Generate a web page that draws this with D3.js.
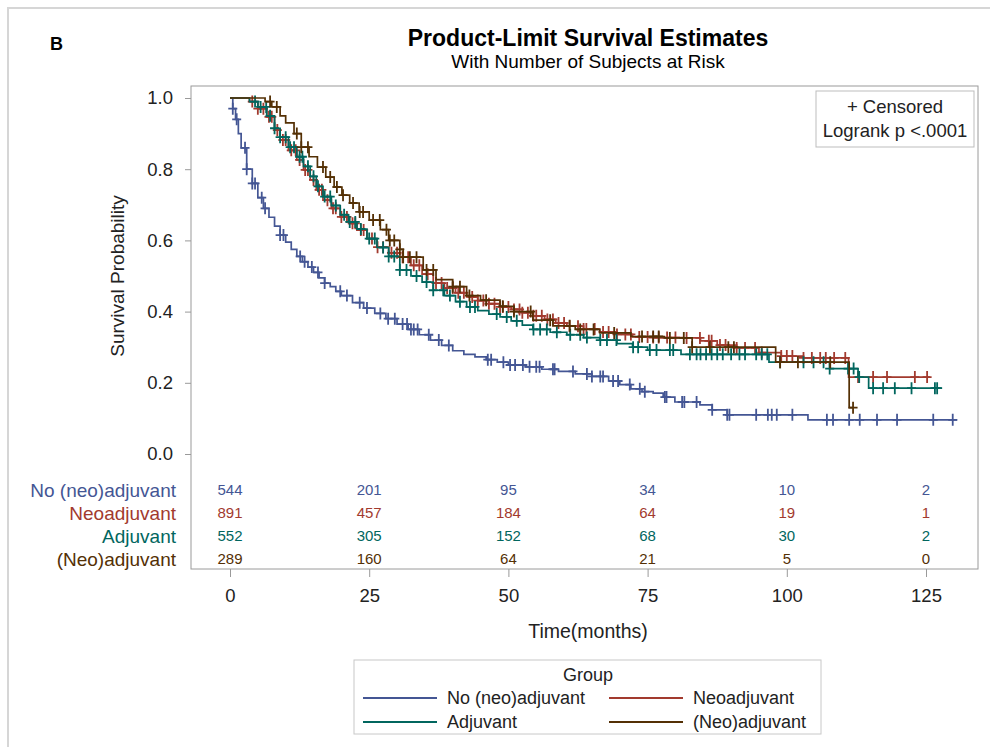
<!DOCTYPE html>
<html>
<head>
  <meta charset="utf-8">
  <title>Product-Limit Survival Estimates</title>
  <script src="https://d3js.org/d3.v7.min.js"></script>
  <style>
    body {
      margin: 0;
      padding: 0;
      background: #fff;
      font-family: "Liberation Sans", Arial, Helvetica, sans-serif;
    }
    .axis path { display: none; }
    .axis line { stroke: #9a9a9a; }
    .axis text { fill: #222; font-size: 18.5px; font-family: "Liberation Sans", Arial, sans-serif; }
  </style>
</head>
<body>
<div id="chart"></div>
<script>

// groups
var groups = ["No (neo)adjuvant", "Neoadjuvant", "Adjuvant", "(Neo)adjuvant"];
var colors = ["#445694", "#A23A2E", "#01665E", "#543005"];

// KM step points [month, survival]
var noAdj = [[0,1],[0.5,0.97],[1,0.94],[1.5,0.9],[2,0.86],[3,0.8],[4,0.76],[5,0.72],[6,0.69],[7,0.665],
  [8,0.64],[9,0.615],[10,0.595],[11,0.575],[12,0.555],[13,0.54],[14,0.525],[15,0.51],[16,0.495],[17,0.48],
  [18,0.47],[19,0.457],[20,0.445],[22,0.425],[24,0.41],[26,0.395],[28,0.38],[30,0.365],[32,0.35],[34,0.335],
  [36,0.32],[38,0.305],[40,0.29],[42,0.28],[44,0.273],[46,0.265],[48,0.258],[50,0.25],[53,0.245],[56,0.238],
  [59,0.232],[62,0.225],[65,0.218],[68,0.205],[70,0.195],[72,0.183],[74,0.175],[76,0.171],[77.8,0.16],
  [79.9,0.146],[84.4,0.138],[86.6,0.124],[89.3,0.11],[103.8,0.096]];
var neoAdj = [[0,1],[3.5,0.99],[5,0.97],[6.6,0.947],[8,0.91],[9,0.882],[10.5,0.853],[12,0.826],[13.2,0.798],
  [14.4,0.77],[15.5,0.742],[16.7,0.713],[18.2,0.69],[19.8,0.666],[21.3,0.648],[22.8,0.629],[24.6,0.605],
  [26.4,0.581],[28.5,0.565],[30.5,0.553],[32.5,0.53],[34.5,0.505],[36.5,0.48],[38.5,0.466],[40.5,0.453],
  [42.5,0.441],[44.5,0.431],[46.5,0.422],[48.5,0.413],[50.5,0.406],[52.5,0.397],[54.4,0.388],[56.5,0.378],
  [58.5,0.368],[60.5,0.359],[63.5,0.351],[66.4,0.343],[69.5,0.336],[72.3,0.329],[76,0.327],[81.3,0.326],
  [84.5,0.318],[87.5,0.306],[91,0.298],[95,0.285],[99,0.275],[103,0.27],[111.1,0.216]];
var adj = [[0,1],[3.5,0.99],[5,0.975],[6.6,0.95],[8,0.915],[9,0.89],[10.5,0.862],[12,0.835],[13.2,0.808],
  [14.4,0.78],[15.5,0.752],[16.7,0.723],[18.2,0.698],[19.8,0.672],[21.3,0.652],[22.8,0.632],[24.6,0.605],
  [26.4,0.58],[28.5,0.555],[30.5,0.517],[32.5,0.5],[34.5,0.483],[36.5,0.46],[38.5,0.445],[40.5,0.428],
  [42.5,0.413],[44.5,0.403],[46.5,0.393],[48.5,0.385],[50.5,0.374],[52.5,0.362],[54.4,0.35],[57.5,0.342],
  [60.5,0.335],[63.5,0.327],[66.4,0.32],[69.5,0.31],[72.3,0.3],[75,0.292],[81,0.28],[96.8,0.258],
  [107.7,0.24],[112.8,0.216],[114.7,0.185]];
var neoAdjBoth = [[0,1],[6.3,0.99],[7.5,0.975],[9,0.95],[10,0.93],[11.5,0.9],[12.8,0.862],[14.2,0.835],
  [15.7,0.806],[17.2,0.778],[18.7,0.75],[20.1,0.727],[21.5,0.705],[23.2,0.68],[25,0.657],[27,0.63],
  [28.5,0.6],[30.5,0.575],[31.1,0.553],[34.7,0.517],[37,0.49],[40,0.47],[42.5,0.445],[45,0.432],
  [48.5,0.415],[51,0.4],[54.4,0.376],[58,0.36],[62,0.35],[66.4,0.34],[72,0.33],[78,0.326],[83,0.3],
  [98,0.258],[111.2,0.13]];
var lastTime = [130.6, 125.7, 127.9, 111.9];

// censored times
var censNoAdj = [0.5,1.2,2.7,3,4,4.5,5.7,6.3,9,9.6,12.6,13.4,14.7,15.8,17,19.8,21,23.3,24.6,27,28.4,29.6,
  31,31.8,32.5,33,33.7,35.7,37.5,39.3,46.3,46.9,49.1,50.3,51.2,52.6,53.8,55,55.6,58,58.3,61.6,64.1,65,66.5,
  67,68.8,69.7,71.8,73.6,74.5,78.1,78.4,81.2,81.6,83.8,86.6,89.3,89.7,94.5,96.6,97.3,98.2,101,107.2,108.3,
  111.2,113.1,116.2,119.8,126.3,129.8];
var censNeoAdj = [4,5,6,7,7.5,8.5,9.5,10,11,11.8,12.5,13.5,14,15,16,16.5,17.5,18.5,19,20,21,22,22.5,23.5,
  24,25.5,26.5,27.5,29,30,31,32,33,34,35.5,37,38,39,40,41,42,43.5,44.5,45.5,46.5,47.5,48.5,49,50,51,52,52.5,
  53.5,54.5,55,56,57,58,59,60,61,62.5,63.5,64,65.5,67,68,69.5,71,72,73.5,75,76,77,78.5,80,82,84.4,86,86.5,
  88,89,91,92.5,94.3,95.5,99,100,101,103,104.5,106,107,108.5,110.5,112.8,115.5,118,123,125.2];
var censAdj = [4.5,5.5,6.5,7.2,8,9,10,10.8,11.5,12.5,13,14,15,15.8,17,18,19,20.5,21.5,22.5,23.5,25,26,27.5,
  28.5,29.5,30.5,31.7,33.5,35.3,36.5,38.3,39.5,41.3,43.1,44,47.9,49.7,51.5,54.5,55.7,56.9,58.7,61.1,62.9,
  64.1,66.5,67.7,69.4,72.4,73.3,75.4,76.6,79,79.6,82.6,83.8,84.5,85.5,86.5,87.5,88.5,90,91.5,92.5,94.5,
  95.5,96.5,98.8,103,104.8,106.6,107.7,111,112,113,115.5,117.3,119.4,122.4,126.6,127];
var censNeoAdjBoth = [7.2,8.4,12,12.8,14,16.7,18,19.2,20.3,22.1,23.3,23.9,25.7,26.9,28.1,28.7,29.5,30.5,
  31.1,32.3,33.5,35.3,36.5,40,41.3,43,46,49,51,54,57.5,61,62.9,65.3,69,74,76,77,79,81.5,83,86.2,89.5,90.5,
  98.8,102,107.8,111.9];

// number at risk
var riskTimes = [0, 25, 50, 75, 100, 125];
var riskNoAdj = [544, 201, 95, 34, 10, 2];
var riskNeoAdj = [891, 457, 184, 64, 19, 1];
var riskAdj = [552, 305, 152, 68, 30, 2];
var riskNeoAdjBoth = [289, 160, 64, 21, 5, 0];

var xTicks = [0, 25, 50, 75, 100, 125];
var yTicks = [0, 0.2, 0.4, 0.6, 0.8, 1.0];

var curves = [noAdj, neoAdj, adj, neoAdjBoth];
var censors = [censNoAdj, censNeoAdj, censAdj, censNeoAdjBoth];
var risks = [riskNoAdj, riskNeoAdj, riskAdj, riskNeoAdjBoth];

var W = 990, H = 747;
var frame = {left: 191, top: 86, right: 978, bottom: 569};

var svg = d3.select("#chart").append("svg")
    .attr("width", W)
    .attr("height", H);

// outer border of the figure
svg.append("path")
    .attr("d", "M8," + H + "V8H" + W)
    .attr("fill", "none")
    .attr("stroke", "#d6d6d6")
    .attr("stroke-width", 2);

var x = d3.scaleLinear().domain([0, 125]).range([230, 926]);
var y = d3.scaleLinear().domain([0, 1]).range([454, 98]);

// titles
svg.append("text")
    .attr("x", 50).attr("y", 50)
    .style("font-size", "18px").style("font-weight", "bold")
    .text("B");

svg.append("text")
    .attr("x", 588).attr("y", 46)
    .attr("text-anchor", "middle")
    .style("font-size", "23px").style("font-weight", "bold")
    .text("Product-Limit Survival Estimates");

svg.append("text")
    .attr("x", 588).attr("y", 68)
    .attr("text-anchor", "middle")
    .style("font-size", "19px")
    .text("With Number of Subjects at Risk");

// plot frame
svg.append("rect")
    .attr("x", frame.left).attr("y", frame.top)
    .attr("width", frame.right - frame.left)
    .attr("height", frame.bottom - frame.top)
    .attr("fill", "none")
    .attr("stroke", "#9a9a9a");

// axes
svg.append("g")
    .attr("class", "axis")
    .attr("transform", "translate(" + frame.left + ",0)")
    .call(d3.axisLeft(y).tickValues(yTicks).tickFormat(d3.format(".1f")).tickSize(6).tickPadding(12));

svg.append("g")
    .attr("class", "axis")
    .attr("transform", "translate(0," + frame.bottom + ")")
    .call(d3.axisBottom(x).tickValues(xTicks).tickSize(8).tickPadding(12));

svg.append("text")
    .attr("transform", "translate(124,276) rotate(-90)")
    .attr("text-anchor", "middle")
    .style("font-size", "19px").style("fill", "#222")
    .text("Survival Probability");

svg.append("text")
    .attr("x", 588).attr("y", 638)
    .attr("text-anchor", "middle")
    .style("font-size", "19.5px").style("fill", "#222")
    .text("Time(months)");

// survival curves
function survAt(pts, t) {
  var s = pts[0][1];
  for (var i = 0; i < pts.length; i++) {
    if (pts[i][0] <= t) s = pts[i][1];
  }
  return s;
}

var line = d3.line()
    .x(function(d) { return x(d[0]); })
    .y(function(d) { return y(d[1]); })
    .curve(d3.curveStepAfter);

curves.forEach(function(pts, i) {
  var data = pts.concat([[lastTime[i], pts[pts.length - 1][1]]]);
  svg.append("path")
      .datum(data)
      .attr("d", line)
      .attr("fill", "none")
      .attr("stroke", colors[i])
      .attr("stroke-width", 1.7);

  svg.append("g").selectAll("path")
      .data(censors[i])
    .enter().append("path")
      .attr("transform", function(t) { return "translate(" + x(t) + "," + y(survAt(pts, t)) + ")"; })
      .attr("d", "M-4.5,0H4.5M0,-6V6")
      .attr("stroke", colors[i])
      .attr("stroke-width", 1.8);
});

// censored / logrank box
svg.append("rect")
    .attr("x", 816).attr("y", 91)
    .attr("width", 158).attr("height", 56)
    .attr("fill", "#fff")
    .attr("stroke", "#bdbdbd");

svg.append("text")
    .attr("x", 895).attr("y", 113)
    .attr("text-anchor", "middle")
    .style("font-size", "18.5px").style("fill", "#222")
    .text("+ Censored");

svg.append("text")
    .attr("x", 895).attr("y", 137)
    .attr("text-anchor", "middle")
    .style("font-size", "18.5px").style("fill", "#222")
    .text("Logrank p <.0001");

// number at risk table
var rowY = [490, 513, 536, 559];

groups.forEach(function(g, i) {
  svg.append("text")
      .attr("x", 176).attr("y", rowY[i])
      .attr("dy", "0.35em")
      .attr("text-anchor", "end")
      .style("font-size", "19px")
      .style("fill", colors[i])
      .text(g);

  svg.append("g").selectAll("text")
      .data(risks[i])
    .enter().append("text")
      .attr("x", function(d, j) { return x(riskTimes[j]); })
      .attr("y", rowY[i])
      .attr("dy", "0.35em")
      .attr("text-anchor", "middle")
      .style("font-size", "15px")
      .style("fill", colors[i])
      .text(function(d) { return d; });
});

// legend
svg.append("rect")
    .attr("x", 354).attr("y", 660)
    .attr("width", 467).attr("height", 74)
    .attr("fill", "#fff")
    .attr("stroke", "#c8c8c8");

svg.append("text")
    .attr("x", 588).attr("y", 681)
    .attr("text-anchor", "middle")
    .style("font-size", "18px").style("fill", "#222")
    .text("Group");

var legPos = [[363, 698], [609, 698], [363, 722], [609, 722]];

groups.forEach(function(g, i) {
  var p = legPos[i];
  svg.append("line")
      .attr("x1", p[0]).attr("x2", p[0] + 74)
      .attr("y1", p[1]).attr("y2", p[1])
      .attr("stroke", colors[i])
      .attr("stroke-width", 1.8);
  svg.append("text")
      .attr("x", p[0] + 84).attr("y", p[1])
      .attr("dy", "0.35em")
      .style("font-size", "18px").style("fill", "#222")
      .text(g);
});

</script>
</body>
</html>
